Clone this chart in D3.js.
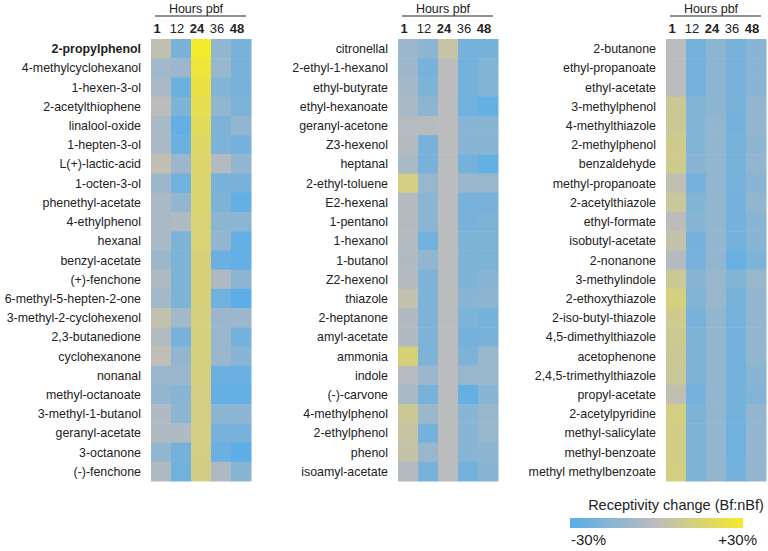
<!DOCTYPE html>
<html><head><meta charset="utf-8">
<script src="https://cdn.jsdelivr.net/npm/d3@7"></script>
<style>body{margin:0;background:#fff}svg{display:block;font-family:Arial,"Liberation Sans",sans-serif}</style>
</head><body><svg id="c" width="768" height="551"></svg>
<script>
const hours = ["1","12","24","36","48"];
const boldHours = ["1","24","48"];

const compounds1 = ["2-propylphenol","4-methylcyclohexanol","1-hexen-3-ol","2-acetylthiophene","linalool-oxide","1-hepten-3-ol","L(+)-lactic-acid","1-octen-3-ol","phenethyl-acetate","4-ethylphenol","hexanal","benzyl-acetate","(+)-fenchone","6-methyl-5-hepten-2-one","3-methyl-2-cyclohexenol","2,3-butanedione","cyclohexanone","nonanal","methyl-octanoate","3-methyl-1-butanol","geranyl-acetate","3-octanone","(-)-fenchone"];
const values1 = [
 [2,-21,30,-13,-21],[-8,-10,27,-11,-21],[-6,-25,25,-18,-21],[0,-19,22,-13,-19],[-6,-27,20,-19,-13],
 [-6,-25,18,-19,-22],[2,-10,17,-3,-13],[-10,-23,16,-21,-21],[-6,-13,16,-19,-27],[-6,-4,15,-15,-15],
 [-6,-19,15,-13,-27],[-10,-19,14,-25,-27],[-4,-19,14,-5,-15],[-8,-19,14,-23,-29],[3,-8,13,-10,-10],
 [-3,-21,13,-11,-22],[1,-13,13,-10,-16],[-11,-10,13,-25,-25],[-13,-16,12,-27,-27],[-4,-15,12,-15,-15],
 [-4,-4,12,-21,-21],[-13,-22,12,-25,-29],[-4,-23,11,-5,-16]
];

const compounds2 = ["citronellal","2-ethyl-1-hexanol","ethyl-butyrate","ethyl-hexanoate","geranyl-acetone","Z3-hexenol","heptanal","2-ethyl-toluene","E2-hexenal","1-pentanol","1-hexanol","1-butanol","Z2-hexenol","thiazole","2-heptanone","amyl-acetate","ammonia","indole","(-)-carvone","4-methylphenol","2-ethylphenol","phenol","isoamyl-acetate"];
const values2 = [
 [-10,-15,5,-22,-22],[-10,-21,0,-22,-18],[-8,-19,0,-22,-18],[-6,-15,0,-23,-27],[-2,-2,-1,-16,-16],
 [-3,-21,-1,-16,-16],[-6,-21,-1,-22,-27],[12,-11,-1,-10,-11],[-3,-15,-1,-21,-21],[-3,-15,-1,-21,-19],
 [-3,-23,-1,-19,-19],[-4,-13,-1,-19,-19],[-3,-19,-1,-19,-16],[3,-19,-1,-16,-15],[-4,-19,-1,-19,-22],
 [-4,-19,-1,-22,-21],[14,-19,-1,-19,-11],[-2,-10,-1,-11,-11],[-6,-21,-1,-27,-16],[8,-10,-1,-16,-11],
 [5,-22,-1,-16,-11],[4,-11,-1,-16,-15],[-3,-21,-1,-22,-16]
];

const compounds3 = ["2-butanone","ethyl-propanoate","ethyl-acetate","3-methylphenol","4-methylthiazole","2-methylphenol","benzaldehyde","methyl-propanoate","2-acetylthiazole","ethyl-formate","isobutyl-acetate","2-nonanone","3-methylindole","2-ethoxythiazole","2-iso-butyl-thiazole","4,5-dimethylthiazole","acetophenone","2,4,5-trimethylthiazole","propyl-acetate","2-acetylpyridine","methyl-salicylate","methyl-benzoate","methyl methylbenzoate"];
const values3 = [
 [-1,-22,-15,-21,-16],[-1,-22,-15,-21,-16],[-1,-22,-15,-21,-16],[8,-18,-15,-21,-13],[8,-18,-13,-22,-13],
 [10,-18,-13,-21,-15],[10,-16,-13,-21,-13],[2,-22,-13,-21,-16],[7,-18,-13,-22,-13],[0,-16,-13,-22,-16],
 [4,-22,-13,-22,-16],[-3,-21,-13,-26,-19],[8,-16,-11,-18,-11],[13,-18,-11,-21,-13],[10,-21,-13,-21,-13],
 [9,-19,-13,-22,-13],[8,-19,-13,-22,-13],[7,-19,-13,-22,-16],[2,-22,-13,-22,-18],[12,-19,-13,-22,-13],
 [11,-19,-13,-23,-13],[11,-19,-13,-23,-13],[12,-19,-13,-22,-13]
];

const legendTitle = "Receptivity change (Bf:nBf)";
const legendTicks = ["-30%","+30%"];
const legendDomain = [-30, 30];

const svg = d3.select("#c");
const color = d3.scaleLinear().domain([-30,0,30]).range(["#5aaee8","#bdbcbc","#f3ea2b"]).clamp(true);

const panels = [
  {names: compounds1, vals: values1, x0: 151},
  {names: compounds2, vals: values2, x0: 398},
  {names: compounds3, vals: values3, x0: 666}
];
const mapTop = 39, mapBottom = 481, mapW = 100;

panels.forEach((p, pi) => {
  const g = svg.append("g");
  const x = d3.scaleBand().domain(hours).range([p.x0, p.x0 + mapW]);
  const y = d3.scaleBand().domain(p.names).range([mapTop, mapBottom]);
  p.names.forEach((n, ri) => {
    hours.forEach((h, ci) => {
      g.append("rect").attr("x", x(h)).attr("y", y(n))
        .attr("width", x.bandwidth() + 0.5).attr("height", y.bandwidth() + 0.5)
        .attr("fill", color(p.vals[ri][ci]));
    });
  });
  g.selectAll("text.row").data(p.names).join("text")
    .attr("x", p.x0 - 10).attr("y", d => y(d) + y.bandwidth()/2 + 4.5)
    .attr("text-anchor", "end").attr("font-size", 12.4).attr("fill", "#222")
    .attr("font-weight", (d,i) => (pi === 0 && i === 0) ? "bold" : "normal")
    .text(d => d);
  g.append("text").attr("x", p.x0 + 45).attr("y", 13).attr("text-anchor", "middle")
    .attr("font-size", 12.5).attr("fill", "#222").text("Hours pbf");
  g.append("line").attr("x1", p.x0 + 4).attr("x2", p.x0 + 95).attr("y1", 16).attr("y2", 16)
    .attr("stroke", "#222").attr("stroke-width", 1.2);
  g.selectAll("text.col").data(hours).join("text")
    .attr("x", d => x(d) + x.bandwidth()/2 - 4).attr("y", 33).attr("text-anchor", "middle")
    .attr("font-size", 13).attr("fill", "#222")
    .attr("font-weight", d => boldHours.includes(d) ? "bold" : "normal")
    .text(d => d);
});

const defs = svg.append("defs");
const grad = defs.append("linearGradient").attr("id", "lg");
d3.range(0, 1.0001, 0.1).forEach(t => {
  grad.append("stop").attr("offset", t).attr("stop-color", color(legendDomain[0] + t*(legendDomain[1]-legendDomain[0])));
});
const lx = d3.scaleLinear().domain(legendDomain).range([570, 743]);
svg.append("rect").attr("x", lx(-30)).attr("y", 518).attr("width", lx(30)-lx(-30)).attr("height", 10).attr("fill", "url(#lg)");
svg.append("text").attr("x", 676).attr("y", 510).attr("text-anchor", "middle").attr("font-size", 14.5).attr("fill", "#222").text(legendTitle);
svg.append("text").attr("x", lx(-30)+1).attr("y", 545).attr("font-size", 15).attr("fill", "#222").text(legendTicks[0]);
svg.append("text").attr("x", 757).attr("y", 545).attr("text-anchor", "end").attr("font-size", 15).attr("fill", "#222").text(legendTicks[1]);
</script></body></html>
